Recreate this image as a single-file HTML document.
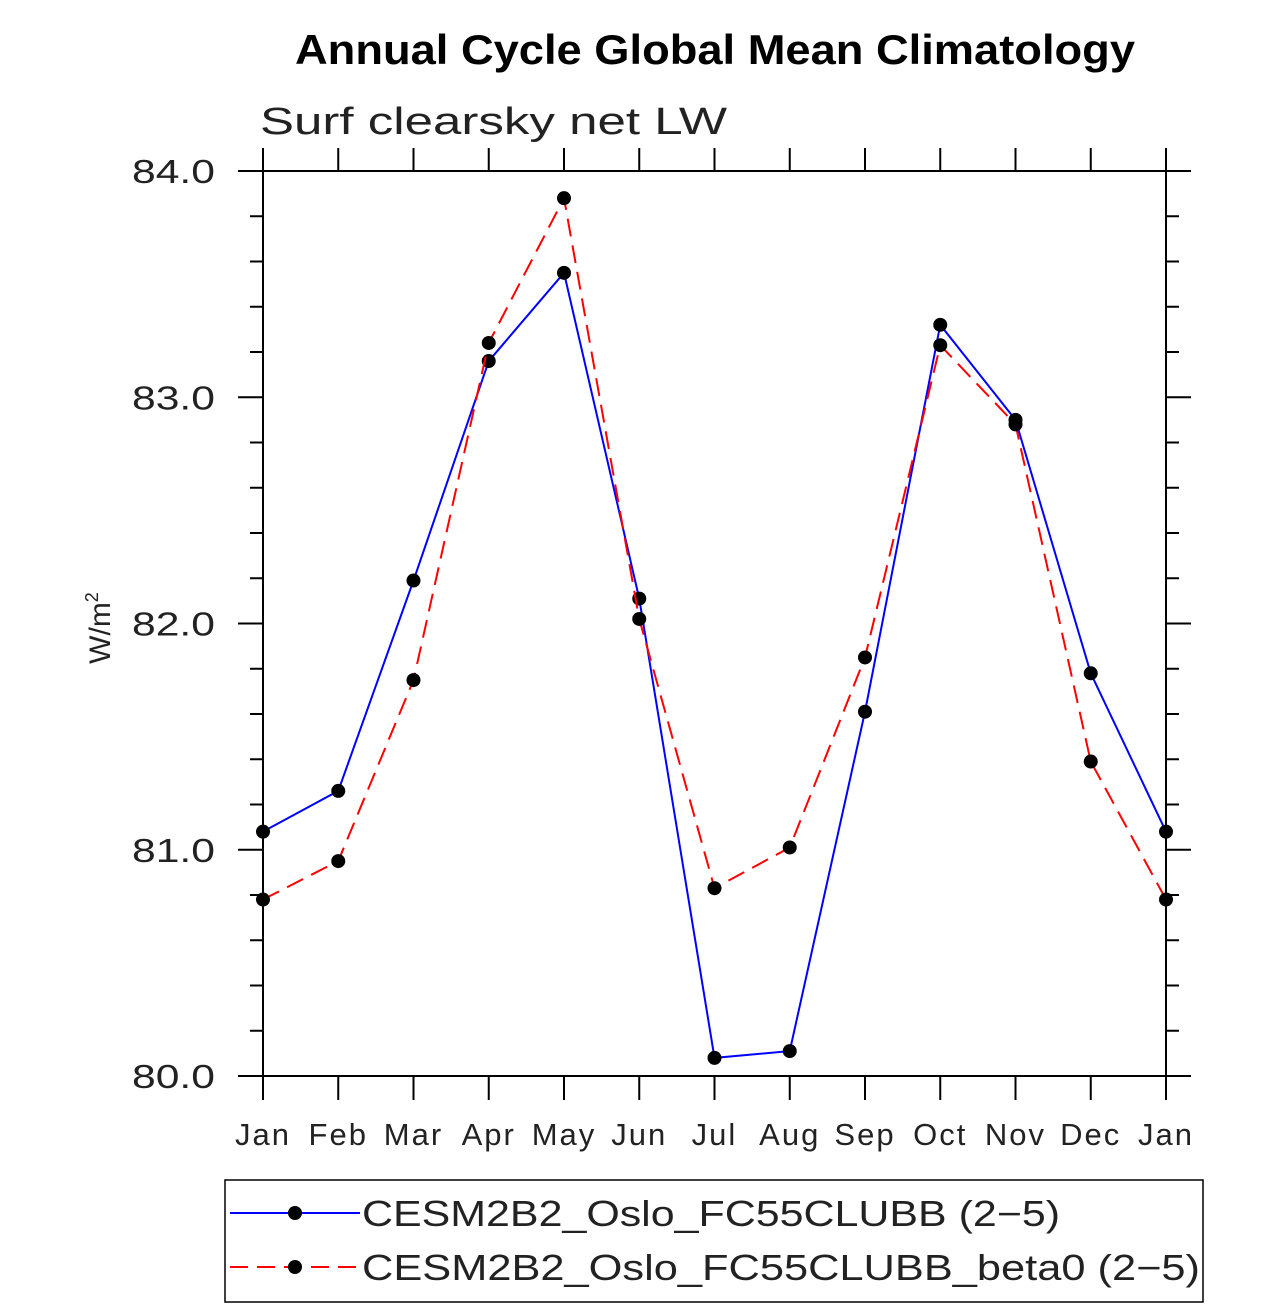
<!DOCTYPE html>
<html><head><meta charset="utf-8"><style>
html,body{margin:0;padding:0;background:#fff;}
svg{display:block;}
text{font-family:"Liberation Sans","DejaVu Sans",sans-serif;}
</style></head><body>
<svg id="chart" width="1285" height="1308" viewBox="0 0 1285 1308">
<text x="295" y="64" textLength="840" lengthAdjust="spacingAndGlyphs" font-size="42" font-weight="bold">Annual Cycle Global Mean Climatology</text>
<text x="260" y="134" textLength="467" lengthAdjust="spacingAndGlyphs" font-size="38" fill="#222">Surf clearsky net LW</text>
<text transform="translate(110,628) rotate(-90)" text-anchor="middle" font-size="30" fill="#222">W/m<tspan font-size="18" dy="-12">2</tspan></text>
<g id="axes"></g>
<g id="series"></g>
<rect x="225" y="1180" width="978" height="122" fill="none" stroke="#000" stroke-width="1.5"/>
<g>
<line x1="230" y1="1213" x2="360" y2="1213" stroke="#00f" stroke-width="2"/>
<circle cx="295" cy="1213" r="7" fill="#000"/>
<text x="362" y="1226" textLength="698" lengthAdjust="spacingAndGlyphs" font-size="36" fill="#222">CESM2B2_Oslo_FC55CLUBB (2−5)</text>
</g>
<g>
<line x1="230" y1="1267" x2="360" y2="1267" stroke="#f00" stroke-width="2" stroke-dasharray="18,9"/>
<circle cx="295" cy="1267" r="7" fill="#000"/>
<text x="362" y="1280" textLength="838" lengthAdjust="spacingAndGlyphs" font-size="36" fill="#222">CESM2B2_Oslo_FC55CLUBB_beta0 (2−5)</text>
</g>
</svg>
<script>
const months=["Jan","Feb","Mar","Apr","May","Jun","Jul","Aug","Sep","Oct","Nov","Dec","Jan"];
const blueValues=[81.08,81.26,82.19,83.16,83.55,82.11,80.08,80.11,81.61,83.32,82.90,81.78,81.08];
const redValues=[80.78,80.95,81.75,83.24,83.88,82.02,80.83,81.01,81.85,83.23,82.88,81.39,80.78];
const yTicks=[80,81,82,83,84];
const yTickLabels=["80.0","81.0","82.0","83.0","84.0"];
const L=263,R=1166,T=171,B=1076,yMin=80,yMax=84;
const xs=i=>L+(R-L)*i/(months.length-1);
const ys=v=>B-(B-T)*(v-yMin)/(yMax-yMin);
const NS="http://www.w3.org/2000/svg";
const ax=document.getElementById('axes');
function mk(tag,attrs,parent){const e=document.createElementNS(NS,tag);for(const k in attrs)e.setAttribute(k,attrs[k]);parent.appendChild(e);return e;}
const frame=mk('rect',{x:L,y:T,width:R-L,height:B-T,fill:'none',stroke:'#000','stroke-width':2},ax);


for(let v=yMin;v<=yMax+1e-9;v+=0.2){
  const y=ys(v);const major=Math.abs(v-Math.round(v))<1e-6;
  const len=major?25:13;
  mk('line',{x1:L-len,y1:y,x2:L,y2:y,stroke:'#000','stroke-width':2},ax);
  mk('line',{x1:R,y1:y,x2:R+len,y2:y,stroke:'#000','stroke-width':2},ax);
}
yTicks.forEach((v,i)=>{
  const t=mk('text',{x:132,y:ys(v)+12,textLength:83,lengthAdjust:'spacingAndGlyphs','font-size':33,fill:'#222'},ax);
  t.textContent=yTickLabels[i];
  
  
});
months.forEach((m,i)=>{
  const x=xs(i);
  mk('line',{x1:x,y1:B,x2:x,y2:B+24,stroke:'#000','stroke-width':2},ax);
  mk('line',{x1:x,y1:T,x2:x,y2:T-23,stroke:'#000','stroke-width':2},ax);
  const t=mk('text',{x:x,y:B+69,'text-anchor':'middle','font-size':31,'letter-spacing':'2px',fill:'#222'},ax);
  t.textContent=m;
  
  
});
const sg=document.getElementById('series');
function series(vals,color,dash,name){
  const g=mk('g',{},sg);
  
  
  const pts=vals.map((v,i)=>xs(i)+','+ys(v)).join(' ');
  const a={points:pts,fill:'none',stroke:color,'stroke-width':2};
  if(dash)a['stroke-dasharray']=dash;
  mk('polyline',a,g);
  vals.forEach((v,i)=>{
    const c=mk('circle',{cx:xs(i),cy:ys(v),r:7,fill:'#000'},g);
    
    
  });
}
series(blueValues,'#00f',null,'series-fc55clubb');
series(redValues,'#f00','18,9','series-fc55clubb-beta0');
</script>
</body></html>
